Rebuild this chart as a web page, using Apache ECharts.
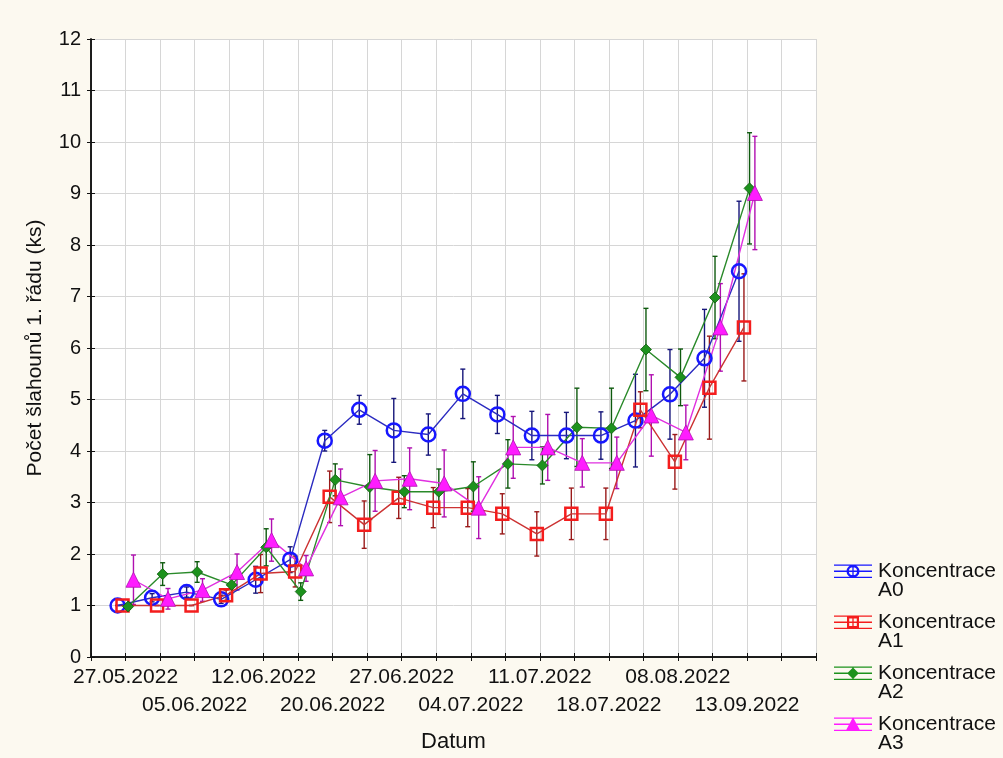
<!DOCTYPE html>
<html>
<head>
<meta charset="utf-8">
<script src="https://cdn.jsdelivr.net/npm/echarts@6/dist/echarts.min.js"></script>
<style>
  html, body { margin: 0; padding: 0; background: #fcf9f0; }
  #chart { width: 1003px; height: 758px; }
</style>
</head>
<body>
<div id="chart"></div>
<script>
// labels of every second measurement date (dates 1, 3, 5, ... 19), shown in two alternating rows
const dateLabels = ['27.05.2022', '05.06.2022', '12.06.2022', '20.06.2022', '27.06.2022',
  '04.07.2022', '11.07.2022', '18.07.2022', '08.08.2022', '13.09.2022']

// means, 19 measurement dates
const a0 = [1.0, 1.15, 1.26, 1.12, 1.5, 1.89, 4.2, 4.8, 4.4, 4.32, 5.11, 4.71, 4.3, 4.3, 4.3, 4.59, 5.1, 5.8, 7.49]
const a1 = [1.0, 1.0, 1.0, 1.2, 1.62, 1.66, 3.11, 2.57, 3.09, 2.9, 2.9, 2.78, 2.39, 2.78, 2.78, 4.8, 3.79, 5.23, 6.4]
const a2 = [0.98, 1.61, 1.65, 1.4, 2.13, 1.27, 3.44, 3.3, 3.21, 3.21, 3.31, 3.75, 3.72, 4.46, 4.44, 5.97, 5.43, 6.98, 9.1]
const a3 = [1.5, 1.13, 1.3, 1.65, 2.27, 1.72, 3.1, 3.42, 3.46, 3.37, 2.9, 4.07, 4.07, 3.77, 3.77, 4.69, 4.36, 6.4, 9.01]

// half-widths of the error bars
const a0Err = [0, 0.08, 0.1, 0.08, 0.26, 0.25, 0.2, 0.28, 0.62, 0.4, 0.48, 0.37, 0.47, 0.45, 0.46, 0.9, 0.87, 0.95, 1.36]
const a1Err = [0, 0, 0, 0.1, 0.37, 0.3, 0.5, 0.46, 0.4, 0.39, 0.37, 0.39, 0.43, 0.5, 0.5, 0.35, 0.53, 1.0, 1.04]
const a2Err = [0.05, 0.22, 0.2, 0.15, 0.36, 0.17, 0.31, 0.63, 0.31, 0.44, 0.48, 0.47, 0.36, 0.76, 0.78, 0.8, 0.55, 0.8, 1.08]
const a3Err = [0.48, 0.2, 0.22, 0.35, 0.41, 0.25, 0.55, 0.59, 0.6, 0.65, 0.6, 0.6, 0.64, 0.47, 0.5, 0.79, 0.53, 0.85, 1.1]

const names = ['Koncentrace A0', 'Koncentrace A1', 'Koncentrace A2', 'Koncentrace A3']

const font = "'Liberation Sans', Arial, sans-serif"

// legend icons: error-bar glyph + marker, drawn in the top half of a 40x40 box
const iconBase = 'M0,0L0.01,0L0,0.01Z M40,40L39.99,40L40,39.99Z M1,3.5h38v1.3h-38Z M1,15.7h38v1.3h-38Z M1,9.6h38v1.3h-38Z M19.35,3.5h1.3v13.5h-1.3Z '
const icons = [
  iconBase + 'M13.5,10.25a6.5,6.5 0 1,1 13,0a6.5,6.5 0 1,1 -13,0Z M15.9,10.25a4.1,4.1 0 1,0 8.2,0a4.1,4.1 0 1,0 -8.2,0Z',
  iconBase + 'M14,4.25h12v12h-12Z M16.2,6.45v7.6h7.6v-7.6Z',
  iconBase + 'M20,4.5L25.8,10.25L20,16L14.2,10.25Z',
  iconBase + 'M20,3.2L27,16.2L13,16.2Z'
]

const styles = [
  { mark: '#1717ff', line: '#2b2bc0', err: '#16167a', symbol: 'circle', size: 14, hollow: true },
  { mark: '#f41d1d', line: '#cc3333', err: '#9a1a1a', symbol: 'rect', size: 12, hollow: true },
  { mark: '#1d921d', line: '#2a8a2a', err: '#0e5a0e', symbol: 'diamond', size: 11, hollow: false },
  { mark: '#ff1cff', line: '#e030e0', err: '#b010b0', symbol: 'triangle', size: 15, hollow: false }
]
const offsets = [-0.23, -0.087, 0.075, 0.23]
const means = [a0, a1, a2, a3]
const errs = [a0Err, a1Err, a2Err, a3Err]

function renderErrorBar(params, api) {
  const x = api.value(0)
  const lo = api.coord([x, api.value(1)])
  const hi = api.coord([x, api.value(2)])
  const cap = 2.5
  const style = { stroke: api.visual('color'), lineWidth: 1.4 }
  return {
    type: 'group',
    children: [
      { type: 'line', shape: { x1: lo[0], y1: lo[1], x2: hi[0], y2: hi[1] }, style },
      { type: 'line', shape: { x1: hi[0] - cap, y1: hi[1], x2: hi[0] + cap, y2: hi[1] }, style },
      { type: 'line', shape: { x1: lo[0] - cap, y1: lo[1], x2: lo[0] + cap, y2: lo[1] }, style }
    ]
  }
}

const series = []
means.forEach((vals, s) => {
  const st = styles[s]
  series.push({
    name: names[s] + ' err',
    type: 'custom',
    renderItem: renderErrorBar,
    encode: { x: 0, y: [1, 2] },
    itemStyle: { color: st.err },
    z: 2,
    silent: true,
    data: vals.map((v, i) => [i + 1 + offsets[s], v - errs[s][i], v + errs[s][i]])
  })
})
means.forEach((vals, s) => {
  const st = styles[s]
  series.push({
    name: names[s],
    type: 'line',
    symbol: st.symbol,
    symbolSize: st.size,
    showAllSymbol: true,
    z: 3,
    lineStyle: { color: st.line, width: 1.4 },
    itemStyle: st.hollow
      ? { color: 'rgba(0,0,0,0)', borderColor: st.mark, borderWidth: 2.5 }
      : { color: st.mark, borderColor: st.err, borderWidth: 0.8 },
    data: vals.map((v, i) => [i + 1 + offsets[s], v])
  })
})

function dateTick(v) {
  if (v % 2 !== 1) return ''
  const k = (v - 1) / 2
  const label = dateLabels[k]
  if (!label) return ''
  return k % 2 ? '\n' + label : label
}

const chart = echarts.init(document.getElementById('chart'))
chart.setOption({
  backgroundColor: '#fcf9f0',
  animation: false,
  grid: { left: 91, right: 187, top: 39, bottom: 101, show: true, backgroundColor: '#ffffff', borderWidth: 0 },
  legend: {
    orient: 'vertical',
    left: 833,
    top: 561,
    padding: 0,
    itemWidth: 40,
    itemHeight: 40,
    itemGap: 11,
    selectedMode: false,
    formatter: name => name.replace(' ', '\n'),
    textStyle: { fontFamily: font, fontSize: 21, lineHeight: 19, color: '#111' },
    data: names.map((n, s) => ({
      name: n,
      icon: 'path://' + icons[s],
      itemStyle: { color: styles[s].mark, borderWidth: 0, borderColor: styles[s].mark }
    }))
  },
  xAxis: [
    {
      type: 'value', min: 0, max: 21, interval: 1,
      name: 'Datum', nameLocation: 'middle', nameGap: 74,
      nameTextStyle: { fontFamily: font, fontSize: 22, color: '#111' },
      axisLine: { lineStyle: { color: '#111', width: 1.5 } },
      axisTick: { inside: true, length: 4, lineStyle: { color: '#111' } },
      axisLabel: {
        margin: 6, lineHeight: 28, fontSize: 21, fontFamily: font, color: '#111',
        showMinLabel: true, showMaxLabel: true,
        formatter: dateTick
      },
      splitLine: { show: true, lineStyle: { color: '#d6d6d6', width: 1 } }
    },
    {
      type: 'value', position: 'top', min: 0, max: 21, interval: 1,
      axisLine: { lineStyle: { color: '#111', width: 1.5 } },
      axisTick: { inside: true, length: 4, lineStyle: { color: '#111' } },
      axisLabel: { show: false },
      splitLine: { show: false }
    }
  ],
  yAxis: [
    {
      type: 'value', min: 0, max: 12, interval: 1,
      name: 'Počet šlahounů 1. řádu (ks)', nameLocation: 'middle', nameGap: 45, nameRotate: 90,
      nameTextStyle: { fontFamily: font, fontSize: 21, color: '#111' },
      axisLine: { show: true, lineStyle: { color: '#111', width: 1.5 } },
      axisTick: { show: true, inside: true, length: 4, lineStyle: { color: '#111' } },
      axisLabel: { margin: 10, fontSize: 20, fontFamily: font, color: '#111' },
      splitLine: { show: true, lineStyle: { color: '#d6d6d6', width: 1 } }
    },
    {
      type: 'value', position: 'right', min: 0, max: 12, interval: 1,
      axisLine: { show: true, lineStyle: { color: '#111', width: 1.5 } },
      axisTick: { show: true, inside: true, length: 4, lineStyle: { color: '#111' } },
      axisLabel: { show: false },
      splitLine: { show: false }
    }
  ],
  series
})
</script>
</body>
</html>
